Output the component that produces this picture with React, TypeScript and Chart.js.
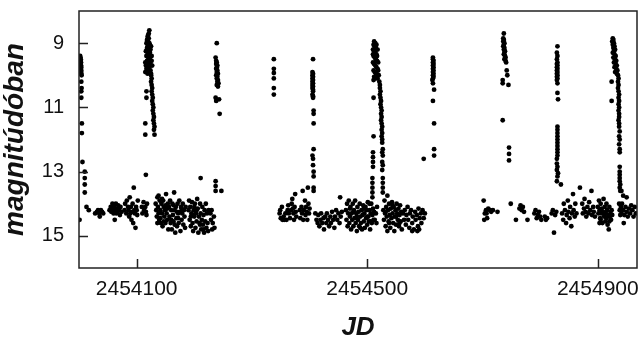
import React, { useEffect, useRef } from "react";
import { Chart, registerables } from "chart.js";

Chart.register(...registerables);

// JD = JD0 + day offset
const JD0 = 2454000;
const xMin = 2454000;
const xMax = 2454968;
const yMin = 8;
const yMax = 16;
const xTickValues = [2454100, 2454500, 2454900];
const yTickValues = [9, 11, 13, 15];

// [day offset from JD0, magnitude]
const season1Rise: [number, number][] = [
  [2, 9.4], [2.5, 9.45], [3, 9.5], [3, 9.55], [3.5, 9.6], [3, 9.65], [3.5, 9.7], [4, 9.75], [3, 9.8], [4, 9.85],
  [3.5, 9.9], [4, 9.95], [4.5, 10.0], [4, 10.2], [4.5, 10.4], [4, 10.5], [4, 10.7], [5, 11.5], [5, 11.8], [6, 12.7],
  [10, 13.0], [10, 13.2], [10, 13.4], [10, 13.65], [13, 14.1], [17, 14.2], [1, 14.5],
  [122, 8.6], [121, 8.7], [120, 8.75], [119, 8.8], [121, 8.85], [118, 8.9], [120, 8.95], [122, 9.0], [119, 9.05],
  [121, 9.1], [118, 9.15], [120, 9.2], [122, 9.25], [119, 9.3], [121, 9.35], [117, 9.4], [120, 9.45], [123, 9.5],
  [118, 9.55], [121, 9.6], [124, 9.65], [119, 9.7], [122, 9.75], [117, 9.8], [124, 9.85], [120, 9.9], [125, 9.95],
  [118, 9.85], [123, 9.3], [116, 9.7], [124, 9.2], [117, 9.0], [123, 9.05], [115, 9.6], [116, 9.25], [126, 9.4],
  [125, 9.1], [127, 9.7], [115, 9.9], [126, 9.55], [119, 9.95], [121, 9.8],
  [125, 10.0], [126, 10.1], [125, 10.2], [126, 10.3], [127, 10.4], [126, 10.5], [127, 10.6], [128, 10.7], [127, 10.8],
  [128, 10.9], [129, 11.0], [128, 11.1], [129, 11.2], [130, 11.3], [129, 11.4], [130, 11.5], [131, 11.6], [130, 11.7],
  [131, 11.85], [117, 10.5], [117, 10.7], [115, 11.5], [115, 11.85], [116, 13.1],
  [239, 9.0], [237, 9.45], [238, 9.55], [239, 9.6], [238, 9.65], [240, 9.7], [239, 9.75], [238, 9.8], [240, 9.85],
  [239, 9.9], [241, 9.95], [238, 10.0], [240, 10.05], [239, 10.1], [241, 10.15], [240, 10.2], [242, 10.25], [239, 10.3],
  [241, 10.35], [237, 10.7], [238, 10.8], [243, 10.75], [244, 11.2], [237, 13.3], [237, 13.45], [237, 13.6], [247, 13.6],
  [211, 13.2],
];

const season1Base: [number, number][] = [
  [28, 14.3], [31, 14.25], [33, 14.2], [35, 14.3], [38, 14.2], [40, 14.25], [42, 14.3], [36, 14.4],
  [53, 14.2], [55, 14.1], [56, 14.25], [58, 14.0], [59, 14.2], [60, 14.3], [61, 14.1], [62, 14.5], [63, 14.2],
  [64, 14.0], [65, 14.3], [66, 14.15], [67, 14.25], [68, 14.05], [70, 14.2], [71, 14.35], [72, 14.1], [74, 14.25],
  [79, 14.2], [80, 14.0], [82, 14.3], [83, 13.9], [85, 14.1], [86, 14.2], [87, 14.4], [88, 13.8], [89, 14.3],
  [90, 14.1], [91, 14.5], [92, 14.25], [93, 14.0], [94, 14.6], [95, 13.5], [96, 14.2], [97, 14.3], [98, 14.75],
  [99, 14.1], [100, 14.2], [101, 14.35], [102, 13.9],
  [109, 14.1], [110, 14.3], [112, 13.95], [113, 14.2], [115, 14.1], [116, 14.25], [117, 14.35], [118, 14.0],
  [133, 14.0], [134, 14.2], [135, 14.4], [136, 13.8], [137, 14.1], [138, 14.3], [139, 14.5], [140, 13.9], [141, 14.2],
  [142, 14.6], [143, 14.0], [144, 14.3], [145, 14.7], [146, 13.9], [147, 14.1], [148, 14.4], [149, 14.2], [150, 14.6],
  [151, 13.7], [152, 14.3], [153, 14.5], [154, 14.0], [155, 14.8], [138, 13.75], [144, 13.85], [150, 14.05],
  [136, 14.6], [141, 14.45], [147, 14.55], [153, 14.15],
  [156, 14.1], [157, 14.4], [158, 13.9], [159, 14.6], [160, 14.2], [161, 14.8], [162, 14.0], [163, 14.35],
  [164, 14.55], [165, 13.65], [166, 14.2], [167, 14.9], [168, 14.1], [169, 14.45], [170, 14.7], [171, 14.0],
  [172, 14.3], [173, 14.6], [174, 13.9], [175, 14.25], [176, 14.85], [177, 14.1], [178, 14.5], [179, 14.3],
  [180, 14.0], [181, 14.65], [182, 14.2], [183, 14.4], [184, 14.75], [185, 14.1], [160, 14.5], [166, 14.65],
  [172, 14.45], [178, 14.15], [170, 14.25], [164, 14.05],
  [190, 14.2], [191, 13.9], [192, 14.5], [193, 14.1], [194, 14.7], [195, 14.3], [196, 13.95], [197, 14.6],
  [198, 14.85], [199, 14.2], [200, 14.4], [201, 14.0], [202, 14.75], [203, 14.3], [204, 14.55], [205, 13.85],
  [206, 14.15], [207, 14.9], [208, 14.4], [209, 14.6], [210, 14.0], [211, 14.3], [212, 14.8], [213, 14.5],
  [214, 14.1], [215, 14.65], [216, 14.35], [217, 14.9], [218, 14.2], [219, 14.55], [220, 14.0], [221, 14.75],
  [222, 14.3], [223, 14.6], [224, 14.85], [225, 14.2], [198, 14.35], [204, 14.2], [210, 14.65], [216, 14.8],
  [194, 14.4], [200, 14.1],
  [228, 14.3], [229, 14.5], [230, 14.2], [231, 14.8], [232, 14.6], [234, 14.4], [235, 14.75],
];

const season2Rise: [number, number][] = [
  [338, 9.5], [338, 9.8], [338, 9.93], [338, 10.1], [338, 10.4], [338, 10.6],
  [406, 9.5], [405, 9.9], [406, 9.95], [405, 10.0], [406, 10.05], [405, 10.1], [406, 10.15], [405, 10.2],
  [406, 10.25], [405, 10.3], [406, 10.35], [405, 10.4], [406, 10.45], [406, 10.5], [405, 10.6], [406, 10.65],
  [406, 10.7], [407, 11.1], [407, 11.2], [407, 11.5], [407, 12.3], [405, 12.5], [406, 12.6], [406, 12.8],
  [407, 13.0], [407, 13.15], [407, 13.5], [407, 13.6],
  [512, 8.95], [514, 9.0], [511, 9.05], [513, 9.1], [515, 9.15], [510, 9.2], [512, 9.25], [514, 9.3], [516, 9.35],
  [511, 9.4], [513, 9.45], [515, 9.5], [517, 9.55], [510, 9.6], [512, 9.65], [514, 9.7], [516, 9.75], [518, 9.8],
  [511, 9.85], [513, 9.9], [515, 9.95], [517, 10.0], [512, 10.05], [514, 10.1], [516, 9.05], [518, 9.2],
  [510, 9.35], [517, 9.4], [519, 9.6], [516, 9.9], [511, 10.15], [513, 9.15], [515, 9.45], [519, 9.85],
  [518, 10.1], [520, 10.0], [521, 10.2], [522, 10.3],
  [522, 10.4], [523, 10.5], [522, 10.6], [523, 10.7], [524, 10.8], [523, 10.9], [524, 11.0], [525, 11.1],
  [524, 11.2], [525, 11.3], [524, 11.4], [525, 11.5], [526, 11.6], [525, 11.7], [526, 11.8], [525, 11.9],
  [526, 12.0], [526, 12.1], [527, 12.3], [526, 12.4], [527, 12.5], [526, 12.7], [527, 12.8], [526, 12.95],
  [527, 13.2], [527, 13.35], [527, 13.5], [527, 13.65],
  [511, 10.7], [511, 11.9], [510, 12.4], [510, 12.55], [510, 12.7], [510, 12.85], [509, 13.2], [509, 13.35],
  [509, 13.5], [509, 13.65],
  [614, 9.45], [614, 9.5], [615, 9.55], [614, 9.6], [615, 9.65], [614, 9.7], [615, 9.75], [614, 9.8], [615, 9.85],
  [614, 9.9], [615, 9.95], [614, 10.0], [615, 10.05], [614, 10.1], [613, 10.15], [614, 10.25], [616, 10.45],
  [614, 10.8], [616, 11.5], [616, 12.3], [616, 12.5], [598, 12.6],
];

const season2Base: [number, number][] = [
  [348, 14.3], [349, 14.2], [350, 14.45], [352, 14.1], [353, 14.5], [355, 14.4], [356, 14.5], [358, 14.3],
  [360, 14.5], [362, 14.2], [363, 14.05], [364, 14.3], [366, 14.45], [368, 14.2], [369, 14.0], [370, 13.85],
  [371, 14.15], [372, 14.3], [373, 14.5], [374, 14.1], [375, 13.7], [376, 14.25], [377, 14.4],
  [383, 14.2], [384, 14.45], [386, 14.1], [387, 14.3], [388, 13.6], [389, 14.5], [390, 14.2], [392, 13.9],
  [393, 14.35], [394, 14.1], [395, 14.25], [396, 14.5], [397, 13.5], [398, 14.0], [399, 14.3], [400, 14.15],
  [410, 14.3], [412, 14.5], [414, 14.6], [415, 14.35], [417, 14.7], [419, 14.5], [420, 14.3], [422, 14.6],
  [424, 14.45], [425, 14.8], [427, 14.4], [429, 14.6], [430, 14.3], [432, 14.5], [434, 14.7], [436, 14.4],
  [437, 14.6], [439, 14.25], [441, 14.5], [443, 14.75], [444, 14.4], [446, 14.2], [448, 14.5], [450, 14.3],
  [452, 14.6], [453, 13.8], [454, 14.4], [456, 14.25],
  [463, 14.2], [464, 14.5], [465, 14.0], [466, 14.7], [467, 14.3], [468, 13.9], [469, 14.6], [470, 14.4],
  [471, 14.1], [472, 14.8], [473, 14.3], [474, 14.5], [475, 14.0], [476, 14.7], [477, 14.2], [478, 14.45],
  [479, 13.9], [480, 14.6], [481, 14.3], [482, 14.85], [483, 14.1], [484, 14.5], [485, 14.25], [486, 14.7],
  [487, 14.0], [488, 14.4], [489, 14.6], [490, 14.2], [491, 14.8], [492, 14.35], [493, 14.05], [494, 14.55],
  [495, 14.3], [496, 14.75], [497, 14.1], [498, 14.45], [499, 14.2], [500, 14.65], [501, 13.95], [502, 14.4],
  [503, 14.55], [504, 14.2], [505, 14.8], [506, 14.3], [507, 14.0], [508, 14.6], [509, 14.35], [510, 14.15],
  [511, 14.5], [512, 14.25], [470, 14.15], [476, 14.25], [482, 14.4], [488, 14.75], [494, 14.15], [500, 14.4],
  [506, 14.55], [504, 14.0], [509, 13.8], [513, 14.5], [515, 14.3], [516, 14.6], [517, 14.1],
  [528, 14.2], [529, 14.5], [530, 13.9], [531, 14.3], [532, 14.7], [533, 14.1], [534, 14.4], [535, 14.85],
  [536, 14.2], [537, 14.55], [538, 14.0], [539, 14.35], [540, 14.75], [541, 14.15], [542, 14.45], [543, 13.95],
  [544, 14.3], [545, 14.6], [546, 14.1], [547, 14.85], [548, 14.4], [549, 14.2], [550, 14.65], [551, 14.0],
  [552, 14.3], [553, 14.5], [554, 14.15], [555, 14.7], [556, 14.35], [557, 14.05], [558, 14.55], [559, 14.25],
  [560, 14.8], [532, 14.25], [538, 14.6], [544, 14.05], [550, 14.4], [556, 14.6], [535, 13.75],
  [562, 14.3], [564, 14.5], [565, 14.2], [567, 14.65], [568, 14.35], [570, 14.1], [571, 14.5], [573, 14.75],
  [574, 14.3], [576, 14.2], [578, 14.6], [579, 14.4], [581, 14.8], [583, 14.25], [584, 14.5], [586, 14.35],
  [588, 14.7], [589, 14.15], [591, 14.45], [593, 14.3], [594, 14.6], [596, 14.2], [598, 14.45], [600, 14.3],
  [587, 14.85], [590, 14.8], [578, 14.85],
];

const season3Rise: [number, number][] = [
  [737, 8.7], [736, 8.85], [737, 8.9], [736, 8.95], [738, 9.0], [737, 9.05], [736, 9.1], [738, 9.15], [737, 9.2],
  [739, 9.25], [738, 9.3], [737, 9.35], [739, 9.4], [740, 9.45], [738, 9.5], [740, 9.55], [741, 9.6], [742, 9.85],
  [743, 10.0], [735, 10.15], [735, 10.25], [745, 10.3], [735, 11.4], [746, 12.25], [746, 12.45], [746, 12.65],
  [830, 9.1], [829, 9.3], [830, 9.4], [829, 9.5], [830, 9.6], [829, 9.65], [830, 9.7], [829, 9.75], [830, 9.8],
  [829, 9.85], [830, 9.9], [829, 9.95], [830, 10.0], [829, 10.05], [830, 10.1], [829, 10.15], [830, 10.25],
  [830, 10.55], [831, 10.75], [830, 11.6], [830, 11.7], [830, 11.8], [830, 11.9], [830, 12.0], [830, 12.1],
  [830, 12.2], [830, 12.3], [830, 12.4], [830, 12.5], [829, 12.6], [829, 12.75], [830, 12.85], [829, 12.95],
  [831, 13.05], [830, 13.15], [829, 13.3], [836, 13.4],
  [926, 8.85], [927, 8.9], [925, 8.95], [928, 9.0], [926, 9.05], [929, 9.1], [927, 9.15], [930, 9.2], [928, 9.25],
  [926, 9.3], [929, 9.35], [931, 9.4], [927, 9.45], [930, 9.5], [932, 9.55], [928, 9.6], [931, 9.65], [933, 9.7],
  [929, 9.75], [932, 9.8], [934, 9.85], [930, 9.9], [933, 9.95], [935, 10.0], [924, 10.2], [924, 10.8],
  [936, 10.1], [935, 10.2], [936, 10.3], [935, 10.4], [936, 10.5], [937, 10.6], [936, 10.7], [937, 10.8],
  [936, 10.9], [937, 11.0], [936, 11.1], [937, 11.2], [937, 11.3], [936, 11.4], [937, 11.5], [937, 11.6],
  [938, 11.75], [937, 11.9], [938, 12.0], [937, 12.15], [938, 12.3], [938, 12.4], [938, 12.85], [938, 13.0],
  [938, 13.1], [938, 13.2], [938, 13.3], [939, 13.4], [938, 13.5], [939, 13.6], [941, 13.6], [944, 13.75],
  [950, 13.8],
];

const season3Base: [number, number][] = [
  [702, 13.9], [703, 14.5], [704, 14.3], [706, 14.2], [707, 14.3], [708, 14.45], [710, 14.15], [713, 14.2],
  [715, 14.25], [718, 14.2], [726, 14.25],
  [749, 14.0], [758, 14.5], [764, 14.15], [766, 14.05], [768, 14.2], [770, 14.1], [772, 14.25], [778, 14.5],
  [790, 14.3], [792, 14.2], [794, 14.45], [796, 14.35], [798, 14.25], [800, 14.4], [802, 14.5], [808, 14.4],
  [810, 14.5], [812, 14.45], [820, 14.3], [822, 14.2], [824, 14.9], [826, 14.35], [828, 14.25],
  [838, 14.3], [840, 14.5], [841, 14.0], [843, 14.2], [845, 14.6], [846, 14.35], [848, 13.9], [849, 14.25],
  [851, 14.45], [852, 14.1], [854, 14.7], [855, 14.3], [857, 13.7], [858, 14.2], [860, 14.4], [861, 14.0],
  [863, 14.3], [869, 13.5], [873, 14.0], [874, 14.3], [876, 14.15], [877, 13.85], [879, 14.25], [880, 14.4],
  [882, 14.1], [884, 14.3], [885, 13.95], [887, 14.2], [889, 13.6], [890, 14.35], [892, 14.1], [893, 14.25],
  [895, 14.4], [900, 14.1], [901, 14.3], [902, 13.9], [903, 14.2], [904, 14.45], [905, 14.0], [906, 14.3],
  [907, 14.15], [908, 14.6], [909, 14.25], [910, 13.85], [911, 14.4], [912, 14.1], [913, 14.55], [914, 14.3],
  [915, 14.0], [916, 14.2], [917, 14.65], [918, 14.35], [919, 14.8], [920, 14.1], [921, 14.4], [922, 14.25],
  [923, 14.5], [924, 14.2], [925, 14.35], [905, 14.5], [910, 14.3], [915, 14.45], [920, 14.55], [903, 14.6],
  [937, 14.0], [938, 14.2], [939, 14.35], [940, 14.1], [941, 14.3], [942, 14.0], [944, 14.2], [945, 14.6],
  [946, 14.35], [948, 14.1], [950, 14.25], [952, 14.4], [954, 14.15], [956, 14.3], [958, 14.05], [960, 14.2],
  [962, 14.4], [964, 14.1], [966, 14.3],
];

const FONT = "'Liberation Sans', Arial, Helvetica, sans-serif";

const innerTicks = {
  id: "innerTicks",
  afterDraw(chart: any) {
    const { ctx, chartArea: a, scales } = chart;
    ctx.save();
    ctx.strokeStyle = "#222";
    ctx.lineWidth = 1.5;
    ctx.beginPath();
    scales.x.ticks.forEach((t: any) => {
      const px = Math.round(scales.x.getPixelForValue(t.value)) + 0.5;
      ctx.moveTo(px, a.bottom);
      ctx.lineTo(px, a.bottom - 9);
    });
    scales.y.ticks.forEach((t: any) => {
      const py = Math.round(scales.y.getPixelForValue(t.value)) + 0.5;
      ctx.moveTo(a.left, py);
      ctx.lineTo(a.left + 9, py);
    });
    ctx.stroke();
    ctx.strokeRect(a.left, a.top, a.right - a.left, a.bottom - a.top);
    ctx.restore();
  },
};

export default function App() {
  const ref = useRef<HTMLCanvasElement | null>(null);
  useEffect(() => {
    document.body.style.margin = "0";
    const all = [...season1Rise, ...season1Base, ...season2Rise, ...season2Base, ...season3Rise, ...season3Base];
    const chart = new Chart(ref.current as HTMLCanvasElement, {
      type: "scatter",
      data: {
        datasets: [
          {
            data: all.map(([d, m]) => ({ x: JD0 + d, y: m })),
            backgroundColor: "#000",
            borderWidth: 0,
            pointRadius: 2.4,
            pointHoverRadius: 2.4,
          },
        ],
      },
      options: {
        animation: false,
        responsive: false,
        events: [],
        layout: { padding: { top: 11, right: 5, left: 0, bottom: 0 } },
        plugins: { legend: { display: false }, tooltip: { enabled: false } },
        scales: {
          x: {
            type: "linear",
            min: xMin,
            max: xMax,
            afterBuildTicks: (s: any) => {
              s.ticks = xTickValues.map((v) => ({ value: v }));
            },
            afterFit: (s: any) => {
              s.height = 71;
              s.paddingLeft = 0;
              s.paddingRight = 0;
            },
            grid: { display: false, drawTicks: false },
            border: { display: false },
            ticks: {
              padding: 9,
              color: "#111",
              font: { family: FONT, size: 21 },
              maxRotation: 0,
              callback: (v: any) => String(v),
            },
            title: {
              display: true,
              text: "JD",
              color: "#111",
              font: { family: FONT, size: 26, weight: "bold", style: "italic", lineHeight: 0.85 },
              padding: 0,
            },
          },
          y: {
            type: "linear",
            min: yMin,
            max: yMax,
            reverse: true,
            afterBuildTicks: (s: any) => {
              s.ticks = yTickValues.map((v) => ({ value: v }));
            },
            afterFit: (s: any) => {
              s.width = 79;
              s.paddingTop = 0;
              s.paddingBottom = 0;
            },
            grid: { display: false, drawTicks: false },
            border: { display: false },
            ticks: {
              padding: 15,
              color: "#111",
              font: { family: FONT, size: 20 },
              callback: (v: any) => String(v),
            },
            title: {
              display: true,
              text: "magnitúdóban",
              color: "#111",
              font: { family: FONT, size: 28, weight: "bold", style: "italic", lineHeight: 1 },
              padding: { top: 1, bottom: 0 },
            },
          },
        },
      },
      plugins: [innerTicks],
    });
    return () => chart.destroy();
  }, []);
  return <canvas ref={ref} width={642} height={339} style={{ display: "block" }} />;
}
